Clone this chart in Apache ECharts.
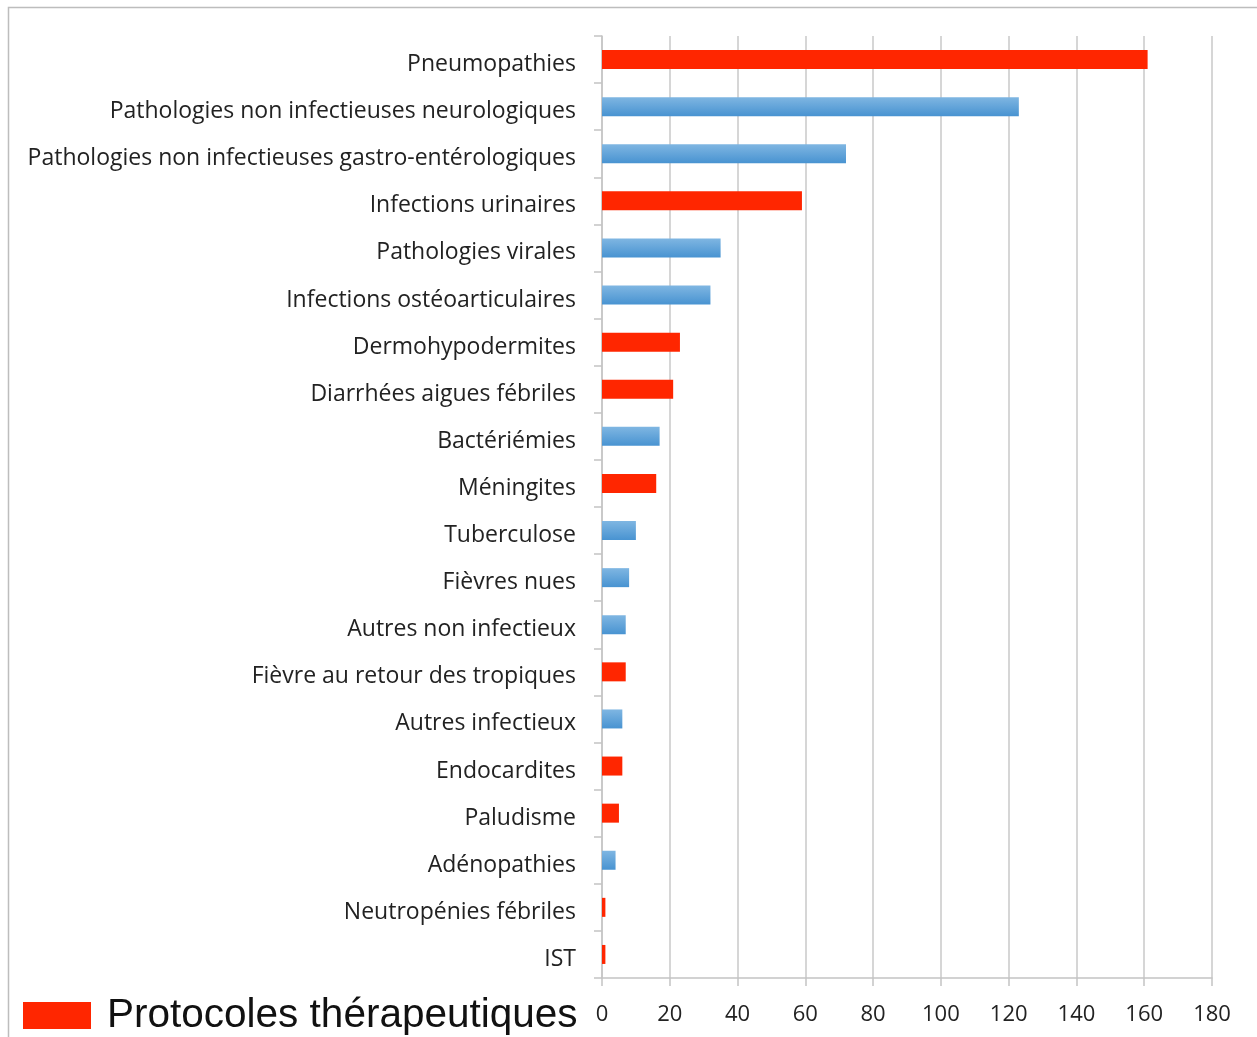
<!DOCTYPE html>
<html>
<head>
<meta charset="utf-8">
<script src="https://cdn.jsdelivr.net/npm/echarts@6/dist/echarts.min.js"></script>
<style>
  html, body { margin: 0; padding: 0; background: #fff; }
  #chart { width: 1257px; height: 1037px; }
</style>
</head>
<body>
<div id="chart"></div>
<script>
// catégories (de haut en bas)
var categories = [
    'Pneumopathies',
    'Pathologies non infectieuses neurologiques',
    'Pathologies non infectieuses gastro-entérologiques',
    'Infections urinaires',
    'Pathologies virales',
    'Infections ostéoarticulaires',
    'Dermohypodermites',
    'Diarrhées aigues fébriles',
    'Bactériémies',
    'Méningites',
    'Tuberculose',
    'Fièvres nues',
    'Autres non infectieux',
    'Fièvre au retour des tropiques',
    'Autres infectieux',
    'Endocardites',
    'Paludisme',
    'Adénopathies',
    'Neutropénies fébriles',
    'IST'
];
var values = [161, 123, 72, 59, 35, 32, 23, 21, 17, 16, 10, 8, 7, 7, 6, 6, 5, 4, 1, 1];
// 1 = protocole thérapeutique (rouge)
var isProtocol = [1, 0, 0, 1, 0, 0, 1, 1, 0, 1, 0, 0, 0, 1, 0, 1, 1, 0, 1, 1];
var xTicks = [0, 20, 40, 60, 80, 100, 120, 140, 160, 180];

var redData = values.map(function(v, i) { return isProtocol[i] ? v : null; });
var blueData = values.map(function(v, i) { return isProtocol[i] ? null : v; });

var chart = echarts.init(document.getElementById('chart'));

var option = {
    animation: false,
    backgroundColor: '#fff',
    graphic: [{
        type: 'rect',
        shape: { x: 8.5, y: 7.5, width: 1260, height: 1040 },
        style: { fill: 'none', stroke: '#bdbdbd', lineWidth: 1.5 },
        silent: true
    }],
    legend: {
        data: ['Protocoles thérapeutiques'],
        left: 18,
        top: 990,
        itemWidth: 68,
        itemHeight: 27,
        icon: 'rect',
        textStyle: {
            fontFamily: 'Liberation Sans, Arial',
            fontSize: 40.5,
            color: '#111',
            padding: [0, 0, 0, 11]
        }
    },
    grid: {
        left: 602,
        right: 45,
        top: 36,
        bottom: 59,
        containLabel: false
    },
    xAxis: {
        type: 'value',
        min: xTicks[0],
        max: xTicks[xTicks.length - 1],
        interval: 20,
        axisLine: { show: true, lineStyle: { color: '#c4c4c4', width: 1.5 } },
        axisTick: { show: true, length: 8, lineStyle: { color: '#c4c4c4', width: 1.5 } },
        axisLabel: {
            margin: 26,
            fontFamily: 'Open Sans, DejaVu Sans',
            fontSize: 22,
            color: '#222'
        },
        splitLine: { show: true, lineStyle: { color: '#c8c8c8', width: 1.5 } }
    },
    yAxis: {
        type: 'category',
        data: categories,
        inverse: true,
        axisLine: { show: true, lineStyle: { color: '#c4c4c4', width: 1.5 } },
        axisTick: { show: true, length: 8, lineStyle: { color: '#c4c4c4', width: 1.5 } },
        axisLabel: {
            margin: 26,
            color: '#222',
            formatter: function(v) { return '{c|' + v + '}'; },
            rich: {
                c: {
                    fontFamily: 'Open Sans, DejaVu Sans',
                    fontSize: 23,
                    color: '#222',
                    padding: [10, 0, 0, 0]
                }
            }
        }
    },
    series: [
        {
            name: 'Protocoles thérapeutiques',
            type: 'bar',
            stack: 'total',
            barWidth: 19,
            itemStyle: { color: '#ff2600' },
            data: redData
        },
        {
            name: 'Autres',
            type: 'bar',
            stack: 'total',
            barWidth: 19,
            itemStyle: {
                color: new echarts.graphic.LinearGradient(0, 0, 0, 1, [
                    { offset: 0, color: '#7fb6e2' },
                    { offset: 1, color: '#4893d1' }
                ])
            },
            data: blueData
        }
    ]
};

chart.setOption(option);
</script>
</body>
</html>
